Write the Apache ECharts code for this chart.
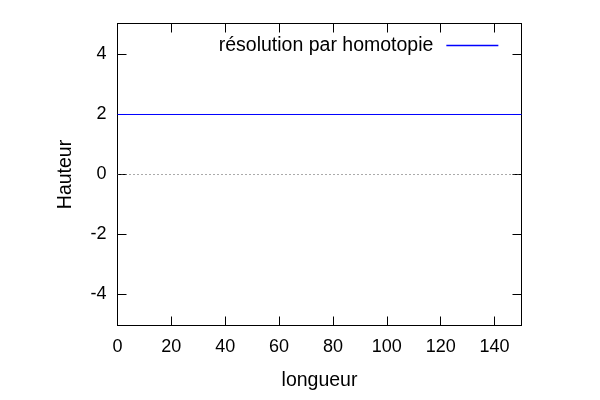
<!DOCTYPE html>
<html><head><meta charset="utf-8">
<script src="https://cdn.jsdelivr.net/npm/echarts@6/dist/echarts.min.js"></script>
<style>html,body{margin:0;padding:0;background:#fff}#c{width:600px;height:400px}</style>
</head><body><div id="c"></div>
<script>
const longueur = [0, 150];
const hauteur = [2, 2];
const xTicks = [0, 20, 40, 60, 80, 100, 120, 140];
const yTicks = [-4, -2, 0, 2, 4];
const seriesName = 'résolution par homotopie';
const xName = 'longueur';
const yName = 'Hauteur';

const font = 'Liberation Sans, Arial, sans-serif';
const chart = echarts.init(document.getElementById('c'), null, {renderer: 'canvas'});
const axisLine = {show: true, onZero: false, lineStyle: {color: '#000', width: 1}};
const xTick = {show: true, inside: true, length: 9, customValues: xTicks, lineStyle: {color: '#000', width: 1}};
const yTick = {show: true, inside: true, length: 9, customValues: yTicks, lineStyle: {color: '#000', width: 1}};
const yMin = -5.033, yMax = 5.033;
chart.setOption({
  animation: false,
  grid: {left: 117.5, right: 78.5, top: 23.5, bottom: 74.5, containLabel: false},
  legend: {
    show: true, right: 96, top: 30.5, align: 'right',
    itemWidth: 52, itemHeight: 10, itemGap: 0,
    itemStyle: {opacity: 0},
    lineStyle: {color: 'rgb(0,0,255)', width: 1.3, opacity: 1},
    textStyle: {fontFamily: font, fontSize: 19.5, color: '#000', padding: [0, 8, 0, 0]},
    data: [{name: seriesName}]
  },
  xAxis: [{
    type: 'value', min: 0, max: 150, interval: 20, position: 'bottom',
    axisLine: axisLine, axisTick: xTick, splitLine: {show: false},
    axisLabel: {fontFamily: font, fontSize: 18, color: '#000', margin: 13, customValues: xTicks},
    name: xName, nameLocation: 'middle', nameGap: 45,
    nameTextStyle: {fontFamily: font, fontSize: 19.5, color: '#000'}
  }, {
    type: 'value', min: 0, max: 150, interval: 20, position: 'top',
    axisLine: axisLine, axisTick: xTick, splitLine: {show: false},
    axisLabel: {show: false}
  }],
  yAxis: [{
    type: 'value', min: yMin, max: yMax, position: 'left',
    axisLine: axisLine, axisTick: yTick, splitLine: {show: false},
    axisLabel: {fontFamily: font, fontSize: 18, color: '#000', margin: 11, customValues: yTicks},
    name: yName, nameLocation: 'middle', nameGap: 42, nameRotate: 90,
    nameTextStyle: {fontFamily: font, fontSize: 19.5, color: '#000'}
  }, {
    type: 'value', min: yMin, max: yMax, position: 'right',
    axisLine: axisLine, axisTick: yTick, splitLine: {show: false},
    axisLabel: {show: false}
  }],
  series: [{
    name: seriesName, type: 'line', symbol: 'none', showSymbol: false,
    lineStyle: {color: '#0000ff', width: 1}, itemStyle: {color: '#0000ff'},
    data: longueur.map((x, i) => [x, hauteur[i]]),
    z: 1,
    markLine: {
      silent: true, symbol: 'none', label: {show: false},
      lineStyle: {color: '#555', type: [1, 3], width: 1},
      data: [{yAxis: 0}]
    }
  }]
});
</script></body></html>
